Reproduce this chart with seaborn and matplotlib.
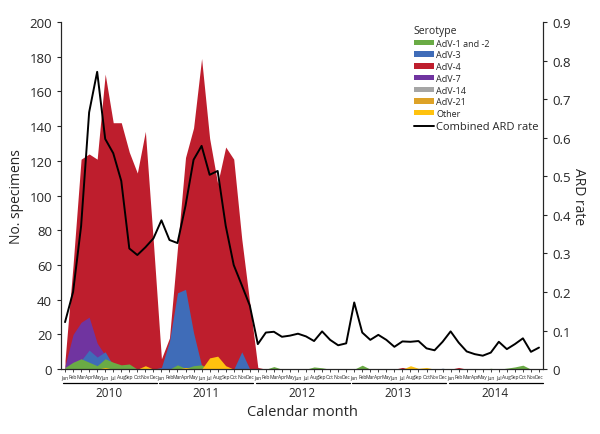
import numpy as np
import matplotlib
matplotlib.use("Agg")
import matplotlib.pyplot as plt
import seaborn as sns
from matplotlib.patches import Patch
from matplotlib.lines import Line2D

sns.set_style("ticks")
plt.rcParams['font.family'] = ['Open Sans', 'DejaVu Sans']

# month axis
months = ['Jan', 'Feb', 'Mar', 'Apr', 'May', 'Jun', 'Jul', 'Aug', 'Sep', 'Oct', 'Nov', 'Dec']
years = ['2010', '2011', '2012', '2013', '2014']

# specimens per serotype, Jan 2010 .. Dec 2014
adv4 = [5, 60, 121, 124, 121, 170, 142, 142, 125, 113, 137, 73,
        6, 18, 70, 122, 139, 179, 133, 107, 128, 121, 75, 38,
        1, 0, 0, 0, 0, 0, 0, 0, 0, 0, 0, 0,
        0, 0, 0, 0, 0, 0, 1, 0, 0, 0, 0, 0,
        0, 1, 0, 0, 0, 0, 0, 0, 0, 0, 0, 0]
adv7 = [2, 20, 27, 30, 15, 8, 0, 0, 0, 0, 0, 0,
        0, 0, 0, 0, 0, 0, 0, 0, 0, 0, 0, 0,
        0, 0, 0, 0, 0, 0, 0, 0, 0, 0, 0, 0,
        0, 0, 0, 0, 0, 0, 0, 0, 0, 0, 0, 0,
        0, 0, 0, 0, 0, 0, 0, 0, 0, 0, 0, 0]
adv3 = [0, 2, 5, 11, 7, 10, 2, 0, 0, 0, 0, 0,
        1, 16, 44, 46, 21, 2, 0, 0, 0, 0, 10, 0,
        0, 0, 0, 0, 0, 0, 0, 0, 0, 0, 0, 0,
        0, 0, 0, 0, 0, 0, 0, 0, 0, 0, 0, 0.5,
        0, 0, 0, 0, 0, 0, 0, 0, 0, 0, 0, 0]
adv12 = [1, 4, 6, 4, 2, 6, 4, 2.5, 3, 0, 0, 0,
         0, 0, 2.5, 0.5, 2, 2.5, 0, 0, 0, 0, 0, 0,
         0, 0, 1.5, 0, 0, 0, 0, 1.3, 0.8, 0, 0, 0,
         0, 2.3, 0, 0, 0, 0, 0, 0, 0, 0, 0, 0,
         0, 0, 0, 0, 0, 0.5, 0, 0.6, 1.3, 2.3, 0, 0]
adv14 = [0, 0, 0, 0, 0, 0, 0, 0, 0, 0, 0, 0,
         0, 0, 0, 0, 0, 0, 0, 0, 0, 0, 0, 0,
         0, 0, 0, 0, 0, 0, 0, 0, 0, 0, 0, 0,
         0, 0, 0, 0, 0, 0, 0, 0, 0, 0, 0, 0.5,
         0, 0, 0, 0, 0, 0, 0, 0, 0, 0, 0, 0]
adv21 = [0, 0, 0, 0, 0, 0, 0, 0, 0, 0, 0, 0,
         0, 0, 0, 0, 0, 0, 0, 0, 0, 0, 0, 0,
         0.4, 0.4, 0.4, 0.4, 0.4, 0.4, 0.4, 0.4, 0.4, 0.4, 0.4, 0.4,
         0.4, 0.4, 0.4, 0.4, 0.4, 0.4, 0.4, 0.4, 0.4, 0.4, 0.4, 0.4,
         0.4, 0.4, 0.4, 0.4, 0.4, 0.4, 0.4, 0.4, 0.4, 0.4, 0.4, 0.4]
other = [0, 0, 0, 0, 0, 1, 0, 0, 0, 0, 2, 0,
         0, 0, 0, 1, 0, 0, 6.5, 7.5, 2, 0, 0, 0,
         0, 0, 0, 0, 0, 0, 0, 0, 0, 0, 0, 0,
         0, 0, 0, 0, 0, 0, 0, 2, 0.5, 1, 0, 0,
         0, 0, 0, 0, 0, 0, 0, 0, 0, 0, 0, 0]

# combined ARD rate (right axis)
ard = [0.122, 0.200, 0.371, 0.666, 0.771, 0.597, 0.560, 0.488, 0.313, 0.296, 0.316, 0.339,
       0.386, 0.335, 0.327, 0.424, 0.543, 0.579, 0.504, 0.514, 0.372, 0.270, 0.218, 0.165,
       0.065, 0.095, 0.097, 0.084, 0.087, 0.092, 0.085, 0.073, 0.098, 0.076, 0.062, 0.067,
       0.173, 0.095, 0.076, 0.089, 0.076, 0.058, 0.072, 0.071, 0.073, 0.054, 0.049, 0.071,
       0.098, 0.069, 0.046, 0.039, 0.035, 0.043, 0.071, 0.052, 0.065, 0.080, 0.045, 0.056]

colors = {'AdV-1 and -2': '#6AAB45', 'AdV-3': '#3F6CB8', 'AdV-4': '#BE1E2D',
          'AdV-7': '#7034A0', 'AdV-14': '#A5A5A5', 'AdV-21': '#DDA227', 'Other': '#FFC20E'}

x = np.arange(len(ard))

fig, ax = plt.subplots(figsize=(6, 4.35), dpi=100)
fig.subplots_adjust(left=0.1017, right=0.905, top=0.947, bottom=0.149)

# overlapping areas, red in the back
draw_order = [('AdV-4', adv4), ('AdV-7', adv7), ('AdV-3', adv3), ('AdV-1 and -2', adv12),
              ('AdV-14', adv14), ('AdV-21', adv21), ('Other', other)]
for name, vals in draw_order:
    ax.fill_between(x, vals, color=colors[name], lw=0)

ax.set_xlim(-0.5, 59.5)
ax.set_ylim(0, 200)
ax.set_yticks(range(0, 201, 20))
ax.tick_params(axis='y', labelsize=9.5, length=3, width=0.8)
ax.set_xticks(x)
ax.set_xticklabels(months * 5, fontsize=3.6)
ax.tick_params(axis='x', length=2, width=0.6, pad=1.5)
ax.set_ylabel('No. specimens', fontsize=10)
ax.set_xlabel('Calendar month', fontsize=10.5)
ax.xaxis.set_label_coords(0.5, -0.10)
for s in ['left', 'bottom']:
    ax.spines[s].set_linewidth(0.8)
ax.spines['top'].set_visible(False)

# year groups
for k, yr in enumerate(years):
    ax.plot([12 * k - 0.25, 12 * k + 11.45], [-0.04, -0.04], transform=ax.get_xaxis_transform(),
            clip_on=False, color='black', lw=0.9)
    ax.text(12 * k + 5.5, -0.066, yr, transform=ax.get_xaxis_transform(), ha='center', va='center',
            fontsize=8.5)

ax2 = ax.twinx()
sns.lineplot(x=x, y=ard, ax=ax2, color='black', lw=1.4)
ax2.set_ylim(0, 0.9)
ax2.set_yticks(np.arange(0, 0.91, 0.1))
ax2.set_yticklabels(['0'] + ['%.1f' % v for v in np.arange(0.1, 0.91, 0.1)])
ax2.tick_params(axis='y', labelsize=9.5, length=3, width=0.8)
ax2.set_ylabel('ARD rate', fontsize=10, rotation=270, labelpad=11)
ax2.spines['right'].set_linewidth(0.8)
ax2.spines['top'].set_visible(False)

legend_names = ['AdV-1 and -2', 'AdV-3', 'AdV-4', 'AdV-7', 'AdV-14', 'AdV-21', 'Other']
handles = [Patch(facecolor=colors[n], edgecolor='none') for n in legend_names]
handles.append(Line2D([0], [0], color='black', lw=1.4))
leg = ax2.legend(handles, legend_names + ['Combined ARD rate'], title='Serotype', loc='upper left',
                 bbox_to_anchor=(0.715, 1.015), frameon=False, fontsize=6.5, title_fontsize=7.5,
                 handlelength=2.2, handleheight=0.55, labelspacing=0.3, handletextpad=0.3,
                 alignment='left')
leg.get_texts()[-1].set_fontsize(8)

plt.savefig('out.png', dpi=100)
